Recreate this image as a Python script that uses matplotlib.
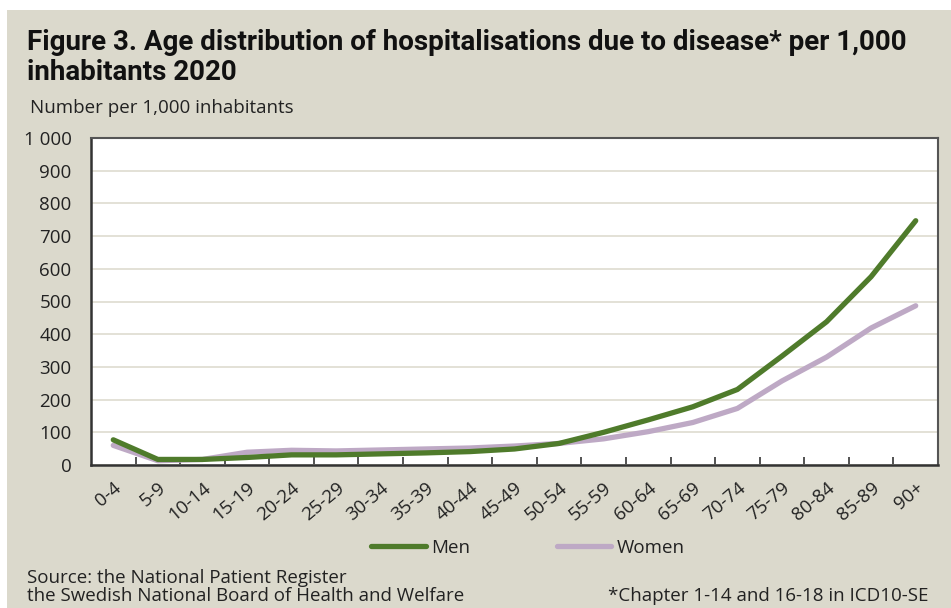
import matplotlib
matplotlib.use("Agg")
import matplotlib.pyplot as plt
from matplotlib.ticker import FuncFormatter, FixedLocator
import numpy as np

categories = ["0-4", "5-9", "10-14", "15-19", "20-24", "25-29", "30-34", "35-39",
              "40-44", "45-49", "50-54", "55-59", "60-64", "65-69", "70-74",
              "75-79", "80-84", "85-89", "90+"]
men = [77, 17, 17, 23, 31, 31, 34, 37, 41, 49, 66, 100, 138, 178, 231, 333, 438, 576, 747]
women = [60, 13, 17, 39, 45, 43, 46, 49, 52, 58, 66, 80, 102, 130, 173, 257, 330, 419, 487]
yticks = [0, 100, 200, 300, 400, 500, 600, 700, 800, 900, 1000]

BG = "#dbd9cc"
MEN_C = "#4f7b2b"
WOMEN_C = "#bea9c5"
TXT = "#222222"

body_font = ["Open Sans", "DejaVu Sans"]
title_font = ["Roboto", "DejaVu Sans"]
FS = 13.5

W, H = 951, 608
fig = plt.figure(figsize=(W / 100, H / 100), dpi=100, facecolor="white")
bg = fig.add_axes([7 / W, 0, 1 - 7 / W, 1 - 10 / H], zorder=-5)
bg.set_facecolor(BG)
bg.set_xticks([]); bg.set_yticks([])
for s in bg.spines.values():
    s.set_visible(False)

ax = fig.add_axes([91 / W, 1 - 465 / H, (938 - 91) / W, (465 - 138) / H], zorder=2)
ax.set_facecolor("white")
x = np.arange(len(categories))
ax.plot(x, women, color=WOMEN_C, lw=3.8, solid_capstyle="round", solid_joinstyle="round",
        label="Women", zorder=3)
ax.plot(x, men, color=MEN_C, lw=3.8, solid_capstyle="round", solid_joinstyle="round",
        label="Men", zorder=4)

ax.set_xlim(-0.5, len(categories) - 0.5)
ax.set_ylim(0, 1000)
ax.set_yticks(yticks)
ax.yaxis.set_major_formatter(FuncFormatter(lambda v, p: f"{int(v):,}".replace(",", " ")))
ax.grid(axis="y", color="#dedbd0", lw=1.2, zorder=1)
ax.set_axisbelow(True)
ax.tick_params(axis="y", length=0, pad=14, labelsize=FS, labelcolor=TXT)
for lbl in ax.get_yticklabels():
    lbl.set_family(body_font)

ax.xaxis.set_major_locator(FixedLocator(x))
ax.set_xticklabels(categories, rotation=40, ha="right", rotation_mode="anchor",
                   fontsize=FS, color=TXT, family=body_font)
ax.xaxis.set_minor_locator(FixedLocator(np.arange(0.5, len(categories) - 1, 1.0)))
ax.tick_params(axis="x", which="major", length=0, pad=10)
ax.tick_params(axis="x", which="minor", length=6, width=1.3, direction="in", color="#444444")

for side in ["left", "bottom"]:
    ax.spines[side].set_color("#333333")
    ax.spines[side].set_linewidth(1.8)
for side in ["top", "right"]:
    ax.spines[side].set_color("#555555")
    ax.spines[side].set_linewidth(1.5)

handles, labels = ax.get_legend_handles_labels()
order = [1, 0]
leg = fig.legend([handles[i] for i in order], [labels[i] for i in order],
                 loc="center", bbox_to_anchor=(528 / W, 1 - 548 / H), ncol=2, frameon=False,
                 prop={"family": body_font, "size": FS}, handlelength=2.9,
                 columnspacing=4.6, handletextpad=0.3)
for t in leg.get_texts():
    t.set_color(TXT)

fig.text(27 / W, 1 - 50 / H, "Figure 3. Age distribution of hospitalisations due to disease* per 1,000",
         family=title_font, weight="bold", fontsize=20, color="#111111", va="baseline")
fig.text(27 / W, 1 - 80 / H, "inhabitants 2020",
         family=title_font, weight="bold", fontsize=20, color="#111111", va="baseline")
fig.text(30 / W, 1 - 113 / H, "Number per 1,000 inhabitants",
         family=body_font, fontsize=FS, color=TXT, va="baseline")
fig.text(27 / W, 1 - 583 / H, "Source: the National Patient Register",
         family=body_font, fontsize=FS, color=TXT, va="baseline")
fig.text(27 / W, 1 - 601 / H, "the Swedish National Board of Health and Welfare",
         family=body_font, fontsize=FS, color=TXT, va="baseline")
fig.text(928 / W, 1 - 601 / H, "*Chapter 1-14 and 16-18 in ICD10-SE",
         family=body_font, fontsize=FS, color=TXT, va="baseline", ha="right")

fig.savefig("out.png", dpi=100, facecolor="white")
